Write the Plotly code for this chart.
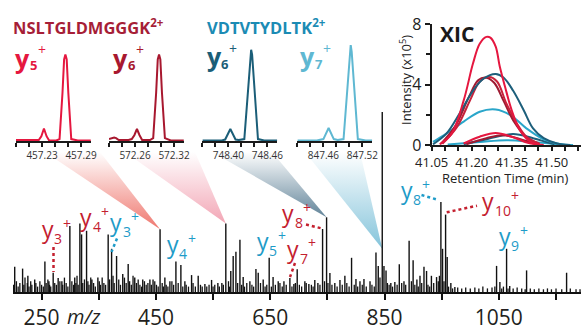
import plotly.graph_objects as go

W, H = 581, 330

# ---------------- data ----------------
# main spectrum: labelled / prominent peaks (m/z, relative intensity %)
spectrum_peaks = [
    (203, 14), (216.8, 13), (226, 9), (238, 7), (255.8, 17), (262.8, 6), (270.3, 10.7),
    (279, 7.8), (285.5, 6), (299.5, 36.7), (308, 8), (317, 38), (320, 32), (328.7, 34),
    (338, 7), (348.5, 8), (366.5, 32), (372.5, 24), (381.2, 20), (392, 10), (401.5, 15.5),
    (413, 8), (427, 7), (439.5, 7), (445, 7), (457.3, 34.8), (465.7, 8), (474.5, 6),
    (485, 17), (493.7, 15), (500.7, 6), (512.4, 9.4), (524, 9), (535.7, 4.5), (547.4, 6.7),
    (558.4, 5), (565.4, 5), (572.3, 38), (581, 11.7), (585.2, 20), (590, 22.4), (597, 29),
    (602.7, 8.3), (614.4, 6), (625, 12.8), (629, 10.7), (637.7, 7), (648.2, 19), (655, 8.3),
    (664, 6), (674, 6), (684.4, 7.8), (691.4, 4.4), (697.2, 12.6), (710.6, 6), (717.6, 4.4),
    (728, 6.7), (733.4, 5), (741.6, 35), (748.6, 41.5), (754.4, 10.6), (763, 5), (772, 6.7),
    (780.6, 9), (792.3, 19), (800, 7.2), (807, 6), (814, 7.2), (824.6, 6), (835, 22),
    (839, 14.4), (846, 100), (849, 14.4), (852.6, 12), (861, 5), (868, 5.5), (875.8, 15.4),
    (884, 6), (893, 28.5), (900, 17.6), (906.6, 7), (912, 9), (919, 14), (923.5, 11.7),
    (932, 9), (941, 8.3), (948.6, 50), (951.5, 24), (956.8, 43), (959.6, 19.4), (966, 5),
    (973, 2.8), (1046, 14.5), (1051.8, 5.5), (1063.5, 24), (1069, 3.3), (1098.5, 12),
    (1168.5, 10.7),
]

# main spectrum: small background peaks (m/z, relative intensity %)
noise_peaks = [
    (201, 4), (206, 6), (209, 3), (212, 5), (219, 4), (221, 8), (225, 5), (228, 3), (231, 6),
    (233, 4), (240, 5), (243, 3), (247, 6), (250, 4), (253, 3), (258, 5), (261, 7), (264, 4),
    (266, 3), (273, 5), (276, 4), (282, 6), (287, 4), (290, 8), (293, 5), (296, 3), (303, 6),
    (306, 4), (310, 5), (312, 9), (314, 4), (322, 5), (325, 7), (331, 6), (333, 4), (336, 8),
    (341, 5), (344, 3), (351, 6), (353, 4), (356, 8), (359, 5), (362, 4), (369, 7), (375, 9),
    (377, 5), (385, 7), (388, 4), (395, 8), (398, 5), (404, 6), (407, 4), (410, 9), (416, 5),
    (419, 7), (422, 4), (425, 3), (430, 6), (433, 4), (436, 5), (442, 4), (448, 6),
    (451, 4), (454, 3), (461, 5), (463, 3), (468, 4), (471, 3), (478, 6), (481, 4), (489, 5),
    (497, 3), (503, 4), (507, 3), (515, 5), (519, 3), (528, 4), (531, 3), (539, 3), (543, 4),
    (550, 3), (553, 4), (561, 3), (568, 4), (577, 6), (579, 3), (593, 5), (600, 4), (605, 3),
    (609, 5), (618, 4), (621, 3), (633, 5), (641, 3), (644, 4), (652, 3), (659, 4), (667, 5),
    (671, 3), (678, 4), (688, 3), (694, 5), (701, 4), (705, 3), (713, 5), (722, 4), (725, 3),
    (737, 4), (745, 6), (751, 5), (758, 4), (767, 3), (776, 4), (784, 5), (788, 3), (797, 4),
    (803, 3), (811, 4), (818, 3), (828, 4), (832, 3), (842, 8), (855, 5), (858, 4), (864, 3),
    (872, 4), (880, 5), (887, 4), (897, 6), (903, 4), (909, 3), (915, 5), (926, 4), (929, 3),
    (936, 5), (944, 6), (946, 9), (954, 6), (962, 3), (969, 2), (978, 2.5), (985, 2),
    (992, 2.5), (1000, 2), (1008, 2.5), (1015, 2), (1022, 3), (1030, 2), (1038, 2.5),
    (1043, 3), (1055, 2), (1058, 3), (1066, 2), (1075, 2), (1082, 2.5), (1090, 2), (1096, 1.5),
    (1105, 2), (1112, 1.5), (1120, 2), (1128, 1.5), (1135, 2), (1142, 1.5), (1150, 2),
    (1160, 1.5), (1175, 2), (1185, 1.5), (1192, 1.5),
]

main_tick_vals = [250, 450, 650, 850, 1050]
main_tick_text = ["250", "450", "650", "850", "1050"]
main_minor_vals = [350, 550, 750, 950, 1150]

# inset profiles
y5_mz = [457.19, 457.215, 457.225, 457.229, 457.233, 457.237, 457.241, 457.252, 457.257,
         457.2615, 457.264, 457.266, 457.268, 457.2705, 457.275, 457.285, 457.305]
y5_int = [1, 1.5, 1, 5, 13, 5, 0.5, 0.5, 2, 50, 85, 90, 85, 50, 2, 0.5, 0.5]
y5_ticks = [457.23, 457.29]
y5_minor = [457.19, 457.21, 457.25, 457.27]

y6r_mz = [572.22, 572.228, 572.231, 572.235, 572.25, 572.255, 572.259, 572.263, 572.267,
          572.271, 572.283, 572.288, 572.2925, 572.295, 572.297, 572.299, 572.3015, 572.306,
          572.315, 572.335]
y6r_int = [2, 3.5, 3, 1, 1, 2, 6, 12.5, 6, 1, 1, 3, 50, 85, 90, 85, 50, 3, 0.5, 0.5]
y6r_ticks = [572.26, 572.32]
y6r_minor = [572.22, 572.24, 572.28, 572.30]

y6b_mz = [748.36, 748.390, 748.395, 748.403, 748.411, 748.416, 748.4245, 748.430, 748.4335,
          748.435, 748.4365, 748.441, 748.4455, 748.455, 748.475]
y6b_int = [0.5, 0.5, 1.5, 12.5, 1.5, 1, 2, 55, 90, 95, 90, 50, 2, 0.5, 0.5]
y6b_ticks = [748.40, 748.46]
y6b_minor = [748.36, 748.38, 748.42, 748.44]

y7_mz = [847.42, 847.450, 847.460, 847.468, 847.476, 847.482, 847.491, 847.4965, 847.5005,
         847.502, 847.5035, 847.508, 847.513, 847.525, 847.535]
y7_int = [0.5, 0.5, 2, 13.5, 2, 1, 2, 55, 93, 100, 93, 50, 2, 0.5, 0.5]
y7_ticks = [847.46, 847.52]
y7_minor = [847.42, 847.44, 847.48, 847.50]

# XIC traces (retention time min, intensity x10^5)
xicA_rt = [41.08, 41.125, 41.17, 41.205, 41.23, 41.255, 41.27, 41.29, 41.305, 41.325, 41.35, 41.38, 41.42, 41.455]
xicA_i = [0.05, 0.75, 2.95, 5.4, 6.7, 7.15, 7.1, 6.5, 5.2, 3.85, 2.3, 1.0, 0.22, 0.04]
xicB_rt = [41.09, 41.145, 41.195, 41.23, 41.265, 41.295, 41.33, 41.37, 41.405, 41.455]
xicB_i = [0.08, 1.2, 3.0, 4.2, 4.5, 4.2, 2.75, 1.4, 0.55, 0.08]
xicC_rt = [41.085, 41.14, 41.19, 41.225, 41.255, 41.285, 41.32, 41.36, 41.40, 41.45]
xicC_i = [0.08, 1.3, 3.2, 4.3, 4.45, 4.1, 2.9, 1.5, 0.6, 0.1]
xicD_rt = [41.055, 41.105, 41.155, 41.205, 41.245, 41.29, 41.32, 41.355, 41.395, 41.43, 41.47, 41.52, 41.57]
xicD_i = [0.05, 0.75, 2.1, 3.6, 4.4, 4.7, 4.45, 3.6, 2.3, 1.1, 0.45, 0.1, 0.0]
xicE_rt = [41.055, 41.105, 41.17, 41.23, 41.29, 41.345, 41.405, 41.47, 41.53, 41.58]
xicE_i = [0.2, 0.75, 1.55, 2.2, 2.35, 1.98, 1.1, 0.37, 0.07, 0.0]
xicF_rt = [41.17, 41.23, 41.29, 41.35, 41.41, 41.47]
xicF_i = [0.1, 0.55, 0.8, 0.55, 0.15, 0.0]
xicG_rt = [41.18, 41.255, 41.315, 41.38, 41.44]
xicG_i = [0.05, 0.45, 0.65, 0.4, 0.05]
xicH_rt = [41.17, 41.26, 41.355, 41.43, 41.51]
xicH_i = [0.05, 0.4, 0.72, 0.45, 0.05]
xicI_rt = [41.11, 41.23, 41.33, 41.43, 41.53]
xicI_i = [0.03, 0.2, 0.32, 0.2, 0.03]

xic_x_ticks = [41.05, 41.20, 41.35, 41.50]
xic_x_text = ["41.05", "41.20", "41.35", "41.50"]
xic_y_ticks = [0, 4, 8]

# ---------------- styling / layout helpers ----------------
FONT = "Open Sans"
RED_T = "#A61E37"
BLUE_T = "#1B8BB4"
C_Y5 = "#E5173F"
C_Y6R = "#A8182F"
C_Y6B = "#1B5E78"
C_Y7 = "#5FB8D2"
C_RED = "#C4202F"
C_BLUE = "#1E9BC8"

MAIN_L, MAIN_R = 13.0, 581.0
PX_PER_MZ = 0.5716
MZ_MIN = 200.0
MZ_MAX = MZ_MIN + (MAIN_R - MAIN_L) / PX_PER_MZ
BASE_PY = 292.0
PX_PER_INT = 1.8
INT_MAX = BASE_PY / PX_PER_INT


def px_to_mz(px):
    return MZ_MIN + (px - MAIN_L) / PX_PER_MZ


def py_to_int(py):
    return (BASE_PY - py) / PX_PER_INT


def px2paper(px):
    return px / W


def py2paper(py):
    return 1 - py / H


def sticks(peaks):
    xs, ys = [], []
    for m, h in peaks:
        xs += [m, m, None]
        ys += [0, h, None]
    return xs, ys


fig = go.Figure()

# ---- cones connecting insets to spectrum peaks ----
cones = [
    # (top-left px, top-right px, apex m/z, apex intensity, rgb)
    (45, 100, 457.3, 34.8, (236, 95, 85)),
    (125, 195, 572.3, 38, (240, 150, 168)),
    (212, 272, 748.6, 41.5, (70, 110, 135)),
    (305, 360, 846, 24, (110, 185, 212)),
]
CONE_TOP_PY = 152
for xl, xr, am, ai, rgb in cones:
    top_i = py_to_int(CONE_TOP_PY)
    xs = [px_to_mz(xl), px_to_mz(xr), am, px_to_mz(xl)]
    ys = [top_i, top_i, ai, top_i]
    r, g, b = rgb
    fig.add_trace(go.Scatter(
        x=xs, y=ys, mode="lines", line=dict(width=0), fill="toself",
        fillgradient=dict(type="vertical",
                          colorscale=[[0, f"rgba({r},{g},{b},0.85)"], [1, f"rgba({r},{g},{b},0)"]],
                          start=ai, stop=top_i),
        hoverinfo="skip", showlegend=False, xaxis="x", yaxis="y"))

# ---- spectrum ----
nx, ny = sticks(noise_peaks)
fig.add_trace(go.Scatter(x=nx, y=ny, mode="lines", line=dict(color="#111111", width=1.3),
                         hoverinfo="skip", showlegend=False, xaxis="x", yaxis="y"))
sx, sy = sticks(spectrum_peaks)
fig.add_trace(go.Scatter(x=sx, y=sy, mode="lines", line=dict(color="#111111", width=1.4),
                         hoverinfo="skip", showlegend=False, xaxis="x", yaxis="y"))

# ---- dotted leader lines for ion labels ----
dots = [
    ((53.5, 247), (53.5, 272), C_RED),
    ((117, 238.5), (111.5, 252), C_BLUE),
    ((306, 224.5), (322, 228.5), C_RED),
    ((295, 263), (290, 277), C_RED),
    ((421.5, 195), (438.5, 200), C_BLUE),
    ((446.7, 212.3), (477, 205.7), C_RED),
]
for (x0, y0), (x1, y1), c in dots:
    fig.add_trace(go.Scatter(x=[px_to_mz(x0), px_to_mz(x1)], y=[py_to_int(y0), py_to_int(y1)],
                             mode="lines", line=dict(color=c, width=2.5, dash="dot"),
                             hoverinfo="skip", showlegend=False, xaxis="x", yaxis="y"))

# ---- insets ----
insets = [
    (y5_mz, y5_int, C_Y5, 16.0, y5_ticks, y5_minor),
    (y6r_mz, y6r_int, C_Y6R, 109.0, y6r_ticks, y6r_minor),
    (y6b_mz, y6b_int, C_Y6B, 202.4, y6b_ticks, y6b_minor),
    (y7_mz, y7_int, C_Y7, 297.4, y7_ticks, y7_minor),
]
INSET_W = 75
INSET_PX_PER_MZ = 650.0
layout_axes = {}
for k, (mz, inten, col, left, tv, mv) in enumerate(insets, start=2):
    fig.add_trace(go.Scatter(x=mz, y=inten, mode="lines", line=dict(color=col, width=2),
                             hoverinfo="skip", showlegend=False,
                             xaxis=f"x{k}", yaxis=f"y{k}"))
    r0 = mv[0]
    layout_axes[f"xaxis{k}"] = dict(
        domain=[px2paper(left), px2paper(left + INSET_W)],
        range=[r0, r0 + INSET_W / INSET_PX_PER_MZ], anchor=f"y{k}", automargin=False,
        showline=True, linewidth=1.6, linecolor="#1a1a1a", ticks="outside", ticklen=4,
        tickwidth=1.5, tickcolor="#1a1a1a", tickmode="array", tickvals=tv,
        ticktext=[f"{v:.2f}" for v in tv],
        minor=dict(tickmode="array", tickvals=mv, ticks="outside", ticklen=4, tickwidth=1.5,
                   tickcolor="#1a1a1a"),
        tickfont=dict(family=FONT, size=10, color="#333333"), showgrid=False, zeroline=False)
    layout_axes[f"yaxis{k}"] = dict(domain=[py2paper(141), py2paper(45)], range=[0, 100],
                                    anchor=f"x{k}", visible=False, automargin=False)

# ---- XIC ----
xic_series = [
    (xicI_rt, xicI_i, "#2AA6CA"), (xicH_rt, xicH_i, "#1D5F7B"), (xicG_rt, xicG_i, "#9E1B32"),
    (xicF_rt, xicF_i, "#E5173F"), (xicE_rt, xicE_i, "#2AA6CA"), (xicC_rt, xicC_i, "#9E1B32"),
    (xicB_rt, xicB_i, "#C8223A"), (xicD_rt, xicD_i, "#1D5F7B"), (xicA_rt, xicA_i, "#E5173F"),
]
for rt, inten, col in xic_series:
    fig.add_trace(go.Scatter(x=rt, y=inten, mode="lines", line=dict(color=col, width=2, shape="spline"),
                             hoverinfo="skip", showlegend=False, xaxis="x6", yaxis="y6"))

XIC_L = 431.7
XIC_PX_PER_MIN = 266.7
layout_axes["xaxis6"] = dict(
    domain=[px2paper(XIC_L), 1.0], range=[41.05, 41.05 + (W - XIC_L) / XIC_PX_PER_MIN],
    anchor="y6", automargin=False, showline=True, linewidth=2, linecolor="#1a1a1a",
    ticks="outside", ticklen=4,
    tickwidth=2, tickcolor="#1a1a1a", tickvals=xic_x_ticks, ticktext=xic_x_text,
    minor=dict(dtick=0.05, tick0=41.05, ticklen=4, tickwidth=1.5, tickcolor="#1a1a1a", ticks="outside"),
    tickfont=dict(family=FONT, size=13, color="#222222"), showgrid=False, zeroline=False)
layout_axes["yaxis6"] = dict(
    domain=[py2paper(145), py2paper(24)], range=[0, 8], anchor="x6", automargin=False,
    showline=True, linewidth=2, linecolor="#1a1a1a", ticks="outside", ticklen=5, tickwidth=2,
    tickcolor="#1a1a1a", tickvals=xic_y_ticks,
    minor=dict(dtick=2, ticklen=4, tickwidth=1.5, tickcolor="#1a1a1a", ticks="outside"),
    tickfont=dict(family=FONT, size=16, color="#222222"), showgrid=False, zeroline=False)

# ---- annotations ----
ann = []


def text(px, py, s, size, color, bold=False, italic=False, xanchor="center", angle=0):
    ann.append(dict(x=px2paper(px), y=py2paper(py), xref="paper", yref="paper", text=s,
                    showarrow=False, xanchor=xanchor, yanchor="middle", textangle=angle,
                    borderpad=0,
                    font=dict(family=FONT, size=size, color=color,
                              weight="bold" if bold else "normal",
                              style="italic" if italic else "normal")))


def ion(left, yc, sub, color, fs, bold=False):
    # "y", its subscript number and the charge "+" as three adjacent texts
    fsub = 13 if bold else 14
    fplus = 14
    y_w = (0.564 if bold else 0.535) * fs
    sub_w = 0.572 * fsub * len(sub)
    text(left, yc - 0.12 * fs, "y", fs, color, bold=bold, xanchor="left")
    sub_x = left + y_w + 0.5
    text(sub_x, yc + (4.5 if bold else 6.5), sub, fsub, color, bold=bold, xanchor="left")
    text(sub_x + sub_w + 0.5, yc - (11 if bold else 9), "+", fplus, color, xanchor="left")


# titles
text(12, 27, "NSLTGLDMGGGK<sup>2+</sup>", 16.5, RED_T, bold=True, xanchor="left")
text(206, 27, "VDTVTYDLTK<sup>2+</sup>", 16.5, BLUE_T, bold=True, xanchor="left")

# inset ion labels
ion(14, 60.5, "5", C_Y5, 25, bold=True)
ion(112, 60.5, "6", C_Y6R, 25, bold=True)
ion(205.5, 59.5, "6", C_Y6B, 25, bold=True)
ion(299, 59.5, "7", C_Y7, 25, bold=True)

# spectrum ion labels
ion(40.5, 232, "3", C_RED, 23)
ion(79, 220, "4", C_RED, 23)
ion(108.8, 225, "3", C_BLUE, 23)
ion(165.5, 247, "4", C_BLUE, 23)
ion(255.5, 244, "5", C_BLUE, 23)
ion(281, 216, "8", C_RED, 23)
ion(286, 251.5, "7", C_RED, 23)
ion(399.5, 193, "8", C_BLUE, 23)
ion(481, 204, "10", C_RED, 23)
ion(497.5, 239, "9", C_BLUE, 23)

# m/z axis annotation
text(83, 316, "m/z", 20, "#231F20", italic=True)

# XIC texts
text(456.5, 34.5, "XIC", 21, "#1a1a1a", bold=True)
text(405, 80, "Intensity (x10<sup>5</sup>)", 13, "#222222", angle=-90)
text(505, 177.5, "Retention Time (min)", 13, "#222222")

fig.update_layout(
    width=W, height=H, margin=dict(l=0, r=0, t=0, b=0, pad=0, autoexpand=False),
    paper_bgcolor="white", plot_bgcolor="rgba(0,0,0,0)",
    showlegend=False, annotations=ann,
    xaxis=dict(domain=[px2paper(MAIN_L), 1.0], range=[MZ_MIN, MZ_MAX], anchor="y", automargin=False,
               showline=True, linewidth=2, linecolor="#111111", ticks="outside", ticklen=6,
               tickwidth=2, tickcolor="#111111", tickmode="array", tickvals=main_tick_vals,
               ticktext=main_tick_text,
               minor=dict(tickmode="array", tickvals=main_minor_vals, ticks="outside", ticklen=6,
                          tickwidth=2, tickcolor="#111111"),
               tickfont=dict(family=FONT, size=21, color="#231F20"), showgrid=False, zeroline=False),
    yaxis=dict(domain=[py2paper(BASE_PY), 1.0], range=[0, INT_MAX], anchor="x", visible=False,
               automargin=False),
    **layout_axes,
)

fig.write_html("out.html", config={"displayModeBar": False},
               post_script="document.body.style.margin='0';document.body.style.padding='0';"
                           "document.body.style.overflow='hidden';")
